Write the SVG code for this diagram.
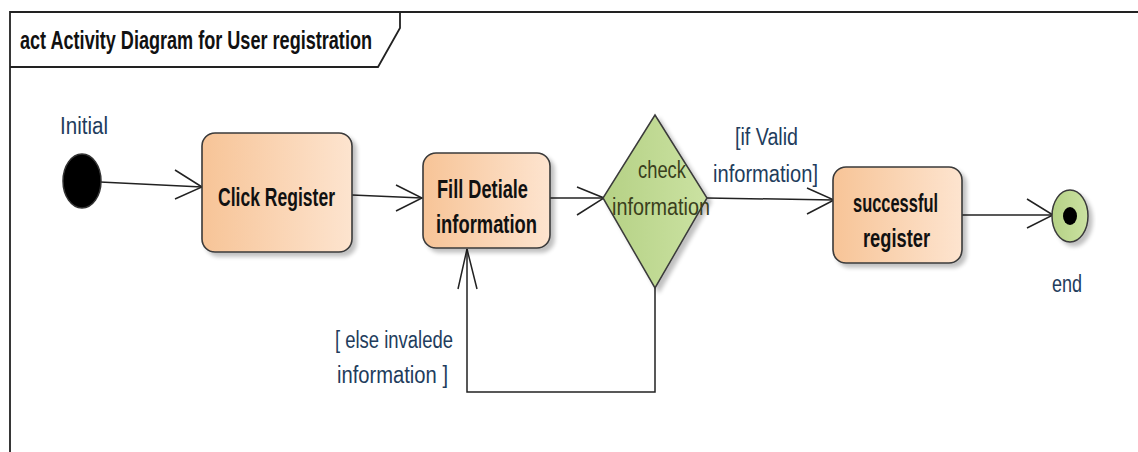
<svg xmlns="http://www.w3.org/2000/svg" width="1138" height="452" viewBox="0 0 1138 452">
<style>
.lbl{font-family:"Liberation Sans Narrow","Liberation Sans",Arial,sans-serif;font-size:23px;fill:#223c5c}
.bold{font-family:"Liberation Sans Narrow","Liberation Sans",Arial,sans-serif;font-size:25px;font-weight:bold;fill:#111}
.dec{font-family:"Liberation Sans Narrow","Liberation Sans",Arial,sans-serif;font-size:23px;fill:#3a3f1c}
.box{fill:url(#og);stroke:#3a3a3a;stroke-width:1.6;filter:url(#sh)}
.edge{fill:none;stroke:#222;stroke-width:1.5}
.head{fill:none;stroke:#222;stroke-width:1.5}
.frame{fill:none;stroke:#222;stroke-width:1.8}
</style>
<defs>
<linearGradient id="og" x1="0" y1="0" x2="1" y2="0"><stop offset="0" stop-color="#f7c497"/><stop offset="1" stop-color="#fde4cf"/></linearGradient>
<linearGradient id="gg" x1="0" y1="0" x2="1" y2="0"><stop offset="0" stop-color="#b5d185"/><stop offset="1" stop-color="#cbe2a2"/></linearGradient>
<filter id="sh" x="-10%" y="-10%" width="130%" height="130%"><feGaussianBlur in="SourceAlpha" stdDeviation="2"/><feOffset dx="4" dy="4"/><feComponentTransfer><feFuncA type="linear" slope="0.25"/></feComponentTransfer><feMerge><feMergeNode/><feMergeNode in="SourceGraphic"/></feMerge></filter>
</defs>
<rect width="1138" height="452" fill="#fff"/>
<g id="frame">
<path class="frame" d="M10,452 V12 H1138"/>
<path class="frame" d="M400,12 V28 L378,67 H10"/>
<text class="bold" x="20" y="49" font-size="22" textLength="352" lengthAdjust="spacingAndGlyphs">act Activity Diagram for User registration</text>
</g>
<g id="connectors">
<path class="edge" d="M100,182 L202,187"/>
<path class="head" d="M175,170 L202,187 L175,199"/>
<path class="edge" d="M352,195 L422,198"/>
<path class="head" d="M396,185 L422,198 L396,211"/>
<path class="edge" d="M550,198 L604,198"/>
<path class="head" d="M577,187 L604,198 L577,215"/>
<path class="edge" d="M707,198 L834,200"/>
<path class="head" d="M807,188 L834,200 L807,214"/>
<path class="edge" d="M962,215 L1053,215"/>
<path class="head" d="M1027,199 L1053,215 L1027,228"/>
<path class="edge" d="M655,288 V392 H467 V249"/>
<path class="head" d="M458,289 L467,249 L477,289"/>
<text class="lbl" x="735" y="145" textLength="63" lengthAdjust="spacingAndGlyphs">[if Valid</text>
<text class="lbl" x="713" y="182" textLength="105" lengthAdjust="spacingAndGlyphs">information]</text>
<text class="lbl" x="335" y="348" textLength="118" lengthAdjust="spacingAndGlyphs">[ else invalede</text>
<text class="lbl" x="337" y="383" textLength="111" lengthAdjust="spacingAndGlyphs">information ]</text>
</g>
<g id="initial">
<ellipse cx="82" cy="181" rx="19" ry="27" fill="#000" stroke="#333" stroke-width="1.5"/>
<text class="lbl" x="60" y="134" textLength="48" lengthAdjust="spacingAndGlyphs">Initial</text>
</g>
<g id="click-register">
<rect class="box" x="202" y="133" width="150" height="119" rx="13"/>
<text class="bold" x="218" y="206" textLength="117" lengthAdjust="spacingAndGlyphs">Click Register</text>
</g>
<g id="fill-detiale">
<rect class="box" x="423" y="153" width="127" height="95" rx="13"/>
<text class="bold" x="437" y="198" textLength="91" lengthAdjust="spacingAndGlyphs">Fill Detiale</text>
<text class="bold" x="436" y="233" textLength="101" lengthAdjust="spacingAndGlyphs">information</text>
</g>
<g id="check-information">
<path d="M655,115 L707,198 L655,288 L603,198 Z" fill="url(#gg)" stroke="#3a3a3a" stroke-width="1.5" filter="url(#sh)"/>
<text class="dec" x="638" y="178" textLength="48" lengthAdjust="spacingAndGlyphs">check</text>
<text class="dec" x="612" y="215" textLength="98" lengthAdjust="spacingAndGlyphs">information</text>
</g>
<g id="successful-register">
<rect class="box" x="833" y="167" width="129" height="96" rx="13"/>
<text class="bold" x="853" y="212" textLength="85" lengthAdjust="spacingAndGlyphs">successful</text>
<text class="bold" x="863" y="247" textLength="67" lengthAdjust="spacingAndGlyphs">register</text>
</g>
<g id="end">
<ellipse cx="1070" cy="216" rx="18" ry="26" fill="url(#gg)" stroke="#3a3a3a" stroke-width="1.5" filter="url(#sh)"/>
<ellipse cx="1070" cy="216" rx="7" ry="9" fill="#000"/>
<text class="lbl" x="1052" y="292" textLength="30" lengthAdjust="spacingAndGlyphs">end</text>
</g>
</svg>
